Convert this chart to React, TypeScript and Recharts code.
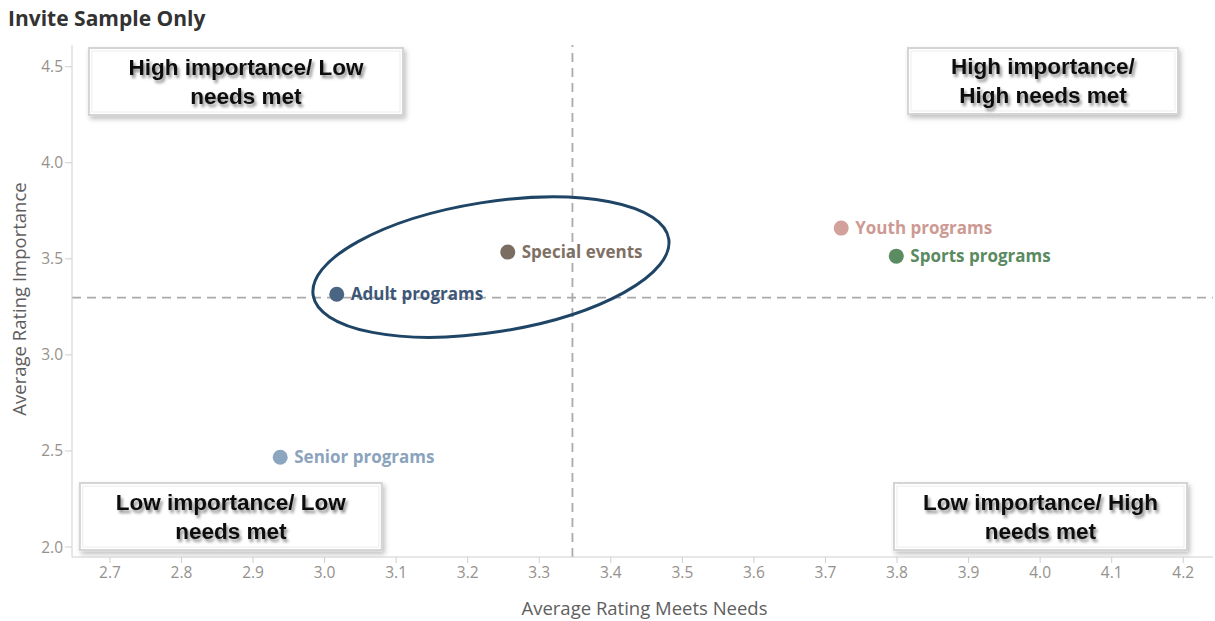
import React from 'react';
import { ScatterChart, Scatter, XAxis, YAxis, ReferenceLine, ReferenceArea } from 'recharts';

// Program ratings (meets needs vs. importance)
const programs = ['Adult programs', 'Special events', 'Youth programs', 'Sports programs', 'Senior programs'];
const meetsNeeds = [3.017, 3.256, 3.722, 3.799, 2.938];
const importance = [3.316, 3.535, 3.66, 3.514, 2.467];
const dotColors = ['#4a6484', '#7b6d62', '#d3a19b', '#5b8b60', '#8ca6c0'];
const labelColors = ['#3e5777', '#7f7064', '#cd9a93', '#5a8a5f', '#8ba3bc'];

const xTicks = [2.7, 2.8, 2.9, 3.0, 3.1, 3.2, 3.3, 3.4, 3.5, 3.6, 3.7, 3.8, 3.9, 4.0, 4.1, 4.2];
const yTicks = [2.0, 2.5, 3.0, 3.5, 4.0, 4.5];

const quadrantText = [
  ['High importance/ Low', 'needs met'],
  ['High importance/', 'High needs met'],
  ['Low importance/ Low', 'needs met'],
  ['Low importance/ High', 'needs met'],
];

// annotation boxes, in axis units
const quadrantBoxes = [
  { x1: 2.6706, x2: 3.1095, y1: 4.2486, y2: 4.5973 },
  { x1: 3.8153, x2: 4.1926, y1: 4.254, y2: 4.5973 },
  { x1: 2.658, x2: 3.08, y1: 1.984, y2: 2.333 },
  { x1: 3.7957, x2: 4.2052, y1: 1.984, y2: 2.333 },
];

// highlight ring around the two programs near the cut lines
const ringCenter = [{ x: 3.2325, y: 3.457 }];

const data = programs.map((name, i) => ({
  name,
  x: meetsNeeds[i],
  y: importance[i],
  color: dotColors[i],
  labelColor: labelColors[i],
}));

const avg = (arr: number[]) => arr.reduce((s, v) => s + v, 0) / arr.length;
const meetsAvg = avg(meetsNeeds);
const importanceAvg = avg(importance);

const tickStyle = { fill: '#95918d', fontSize: 15.5, fontFamily: 'Open Sans' };

const ProgramDot = (props: any) => {
  const { cx, cy, payload } = props;
  return (
    <g>
      <circle cx={cx} cy={cy} r={7.5} fill={payload.color} />
      <text
        x={cx + 14}
        y={cy + 6}
        fill={payload.labelColor}
        fontSize={17}
        fontWeight={700}
        fontFamily="Open Sans"
      >
        {payload.name}
      </text>
    </g>
  );
};

const Ring = (props: any) => {
  const { cx, cy } = props;
  return (
    <ellipse
      cx={cx}
      cy={cy}
      rx={180}
      ry={65}
      transform={`rotate(-9 ${cx} ${cy})`}
      fill="none"
      stroke="#1f4566"
      strokeWidth={3}
    />
  );
};

const makeBox = (lines: string[], idx: number) => (props: any) => {
  const { x, y, width, height } = props;
  const mid = x + width / 2;
  const cy = y + height / 2;
  return (
    <g>
      <defs>
        <filter id={`boxShadow${idx}`} x="-10%" y="-20%" width="120%" height="150%">
          <feDropShadow dx="2" dy="3" stdDeviation="2.5" floodColor="#000" floodOpacity="0.25" />
        </filter>
        <filter id={`textShadow${idx}`} x="-10%" y="-30%" width="120%" height="160%">
          <feDropShadow dx="2" dy="3" stdDeviation="1.8" floodColor="#000" floodOpacity="0.45" />
        </filter>
      </defs>
      <rect
        x={x}
        y={y}
        width={width}
        height={height}
        fill="#fff"
        stroke="#d4d4d4"
        strokeWidth={2}
        filter={`url(#boxShadow${idx})`}
      />
      <rect x={x + 3} y={y + 3} width={width - 6} height={height - 6} fill="none" stroke="#ededed" strokeWidth={1} />
      <g filter={`url(#textShadow${idx})`}>
        {lines.map((line, i) => (
          <text
            key={i}
            x={mid}
            y={cy + (i === 0 ? -14.5 : 14.5) + 8}
            textAnchor="middle"
            fontSize={22.5}
            fontWeight={700}
            fontFamily="Liberation Sans"
            fill="#111"
          >
            {line}
          </text>
        ))}
      </g>
    </g>
  );
};

export default function App() {
  return (
    <div style={{ position: 'absolute', left: 0, top: 0, width: 1215, height: 621, background: '#fff' }}>
      <div
        style={{
          position: 'absolute',
          left: 8,
          top: 4,
          fontFamily: 'Open Sans',
          fontWeight: 700,
          fontSize: 21,
          color: '#333',
        }}
      >
        Invite Sample Only
      </div>
      <ScatterChart width={1215} height={621} margin={{ top: 45, right: 2, bottom: 0, left: 0 }}>
        <XAxis
          type="number"
          dataKey="x"
          domain={[2.647, 4.2416]}
          allowDataOverflow
          ticks={xTicks}
          interval={0}
          tickFormatter={(v: number) => v.toFixed(1)}
          height={64}
          stroke="#cfcfcf"
          tickSize={6}
          tickMargin={4}
          tick={tickStyle}
          label={{
            value: 'Average Rating Meets Needs',
            content: (p: any) => (
              <text
                x={p.viewBox.x + p.viewBox.width / 2 + 2}
                y={p.viewBox.y + 58}
                textAnchor="middle"
                fontSize={18.5}
                fontFamily="Open Sans"
                fill="#5e5e5e"
              >
                Average Rating Meets Needs
              </text>
            ),
          }}
        />
        <YAxis
          type="number"
          dataKey="y"
          domain={[1.948, 4.613]}
          allowDataOverflow
          ticks={yTicks}
          interval={0}
          tickFormatter={(v: number) => v.toFixed(1)}
          width={72}
          stroke="#cfcfcf"
          tickSize={7}
          tickMargin={2}
          tick={tickStyle}
          label={{
            value: 'Average Rating Importance',
            content: (p: any) => {
              const cy = p.viewBox.y + p.viewBox.height / 2 - 2;
              return (
                <text
                  x={26}
                  y={cy}
                  transform={`rotate(-90 26 ${cy})`}
                  textAnchor="middle"
                  fontSize={18.5}
                  fontFamily="Open Sans"
                  fill="#5e5e5e"
                >
                  Average Rating Importance
                </text>
              );
            },
          }}
        />
        {quadrantBoxes.map((b, i) => (
          <ReferenceArea key={i} {...b} shape={makeBox(quadrantText[i], i)} />
        ))}
        <ReferenceLine x={meetsAvg} stroke="#aaa" strokeWidth={1.8} strokeDasharray="9 6" />
        <ReferenceLine y={importanceAvg} stroke="#aaa" strokeWidth={1.8} strokeDasharray="9 6" />
        <Scatter data={ringCenter} shape={Ring} isAnimationActive={false} />
        <Scatter data={data} shape={ProgramDot} isAnimationActive={false} />
      </ScatterChart>
    </div>
  );
}
